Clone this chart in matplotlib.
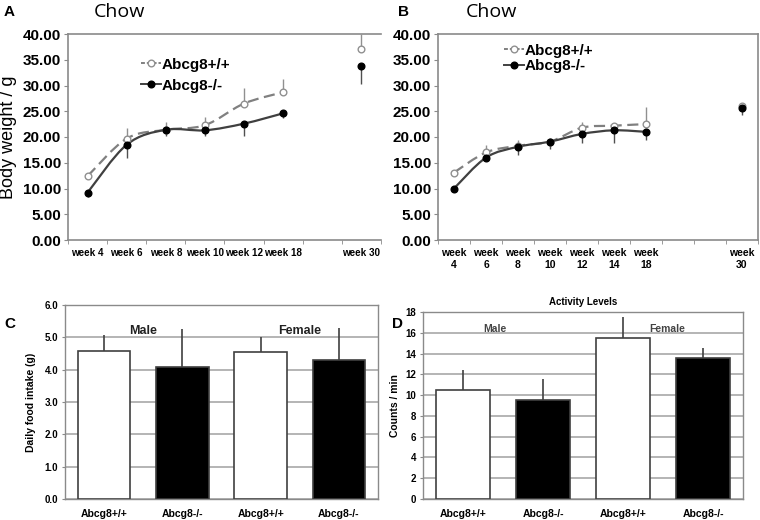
import matplotlib
matplotlib.use("Agg")
import matplotlib.pyplot as plt
from matplotlib.path import Path
from matplotlib.patches import PathPatch
from matplotlib.lines import Line2D
import numpy as np

plt.rcParams["font.family"] = ["Liberation Sans", "DejaVu Sans"]

# ---- panel A: body weight, chow
weeks_a = ["week 4", "week 6", "week 8", "week 10", "week 12", "week 18", "", "week 30"]
wt_a = [12.4, 19.7, 21.4, 22.3, 26.5, 28.7, 37.0]
wt_a_err = [0.7, 2.0, 1.6, 1.6, 3.1, 2.6, 3.0]
ko_a = [9.2, 18.5, 21.4, 21.3, 22.6, 24.6, 33.8]
ko_a_err = [0.9, 2.5, 1.3, 1.1, 2.5, 1.0, 3.6]
pos_a = [0, 1, 2, 3, 4, 5, 7]

# ---- panel B: body weight, chow
weeks_b = ["week\n4", "week\n6", "week\n8", "week\n10", "week\n12", "week\n14", "week\n18", "", "", "week\n30"]
wt_b = [13.1, 17.0, 18.3, 19.1, 21.8, 22.2, 22.5, 26.0]
wt_b_err = [0.5, 1.4, 1.1, 0.8, 1.2, 0.0, 3.3, 0.5]
ko_b = [10.0, 16.0, 18.1, 19.1, 20.6, 21.3, 21.0, 25.6]
ko_b_err = [0.6, 0.5, 1.6, 1.5, 1.8, 2.5, 1.6, 1.3]
pos_b = [0, 1, 2, 3, 4, 5, 6, 9]

# ---- panel C: food intake
genotypes = ["Abcg8+/+", "Abcg8-/-", "Abcg8+/+", "Abcg8-/-"]
food = [4.57, 4.07, 4.55, 4.31]
food_err = [0.51, 1.2, 0.47, 0.99]

# ---- panel D: activity
activity = [10.5, 9.55, 15.5, 13.6]
activity_err = [1.95, 2.0, 2.0, 0.95]

bar_colors = ["white", "black", "white", "black"]
GRID = "#a8a8a8"
SPINE = "#8a8a8a"


def smooth_path(xs, ys):
    # excel style smoothed line through the points (bezier segments)
    pts = np.column_stack([xs, ys]).astype(float)
    n = len(pts)
    verts = [pts[0]]
    codes = [Path.MOVETO]
    for i in range(n - 1):
        p0 = pts[i - 1] if i > 0 else pts[i]
        p1 = pts[i]
        p2 = pts[i + 1]
        p3 = pts[i + 2] if i + 2 < n else pts[i + 1]
        verts += [p1 + (p2 - p0) / 6.0, p2 - (p3 - p1) / 6.0, p2]
        codes += [Path.CURVE4] * 3
    return Path(verts, codes)


def weight_panel(ax, pos, wt, wt_err, ko, ko_err, labels, nline, xmax, tick_fs):
    ax.add_patch(PathPatch(smooth_path(pos[:nline], wt[:nline]), fill=False,
                           edgecolor="#808080", lw=1.6, ls=(0, (5, 2.5)), zorder=2))
    ax.add_patch(PathPatch(smooth_path(pos[:nline], ko[:nline]), fill=False,
                           edgecolor="#404040", lw=1.6, zorder=2))
    ax.errorbar(pos, wt, yerr=[np.zeros(len(wt)), wt_err], fmt="none",
                ecolor="#909090", elinewidth=1.0, capsize=0, zorder=3)
    ax.errorbar(pos, ko, yerr=[ko_err, np.zeros(len(ko))], fmt="none",
                ecolor="#505050", elinewidth=1.0, capsize=0, zorder=3)
    ax.plot(pos, wt, "o", ls="none", mfc="white", mec="#909090", ms=4.8, mew=1, zorder=4)
    ax.plot(pos, ko, "o", ls="none", mfc="black", mec="black", ms=4.8, zorder=5)
    ax.set_ylim(0, 40)
    ax.set_xlim(-0.5, xmax)
    ax.set_yticks(np.arange(0, 40.1, 5))
    ax.set_yticklabels(["%.2f" % v for v in np.arange(0, 40.1, 5)],
                       fontsize=11, fontweight="bold")
    ax.set_xticks(range(len(labels)))
    ax.set_xticklabels(labels, fontsize=tick_fs, fontweight="bold")
    ax.set_xticks(np.arange(-0.5, len(labels), 1), minor=True)
    ax.tick_params(axis="x", which="major", length=0, pad=6)
    ax.tick_params(axis="x", which="minor", length=3, color=SPINE)
    ax.tick_params(axis="y", length=3, color=SPINE, pad=2)
    for s in ax.spines.values():
        s.set_color(SPINE)
        s.set_linewidth(1.2)


def legend_handles():
    h1 = Line2D([], [], color="#808080", ls=(0, (2, 1)), lw=1.4, marker="o",
                mfc="white", mec="#909090", ms=4.8)
    h2 = Line2D([], [], color="#404040", lw=1.4, marker="o", mfc="black",
                mec="black", ms=4.8)
    return [h1, h2]


def bar_panel(ax, vals, errs, ymax, ystep, fmt):
    x = np.arange(len(vals))
    ax.bar(x, vals, width=0.67, color=bar_colors, edgecolor="#404040", lw=1.2, zorder=3)
    ax.errorbar(x, vals, yerr=[np.zeros(len(vals)), errs], fmt="none",
                ecolor="#404040", elinewidth=1.2, capsize=0, zorder=2)
    ax.set_xlim(-0.5, len(vals) - 0.5)
    ax.set_ylim(0, ymax)
    ticks = np.arange(0, ymax + 0.01, ystep)
    ax.set_yticks(ticks)
    ax.set_yticklabels([fmt % v for v in ticks], fontsize=7, fontweight="bold")
    ax.yaxis.grid(True, color=GRID, lw=1.2)
    ax.set_axisbelow(True)
    ax.set_xticks(x)
    ax.set_xticklabels(genotypes, fontsize=7.5, fontweight="bold")
    ax.tick_params(axis="x", length=0, pad=7)
    ax.tick_params(axis="y", length=2, color=SPINE, pad=3)
    for s in ax.spines.values():
        s.set_color(SPINE)
        s.set_linewidth(1.0)


fig = plt.figure(figsize=(7.6, 5.2), dpi=100)

# A
axA = fig.add_axes([68 / 760, 1 - 240 / 520, 313 / 760, 206 / 520])
weight_panel(axA, pos_a, wt_a, wt_a_err, ko_a, ko_a_err, weeks_a, 6, 7.33, 7.1)
axA.spines["right"].set_visible(False)
axA.set_ylabel("Body weight / g", fontsize=13, labelpad=4)
axA.legend(legend_handles(), ["Abcg8+/+", "Abcg8-/-"], loc="upper left",
           bbox_to_anchor=(127 / 760, 1 - 44 / 520), bbox_transform=fig.transFigure,
           frameon=False, handlelength=1.3, handletextpad=0.05, labelspacing=0.45,
           prop={"weight": "bold", "size": 11})

# B
axB = fig.add_axes([438 / 760, 1 - 240 / 520, 320 / 760, 206 / 520])
weight_panel(axB, pos_b, wt_b, wt_b_err, ko_b, ko_b_err, weeks_b, 7, 9.5, 7.5)
axB.legend(legend_handles(), ["Abcg8+/+", "Abcg8-/-"], loc="upper left",
           bbox_to_anchor=(490 / 760, 1 - 30 / 520), bbox_transform=fig.transFigure,
           frameon=False, handlelength=1.3, handletextpad=0.05, labelspacing=0.1,
           prop={"weight": "bold", "size": 11})

# C
axC = fig.add_axes([65 / 760, 1 - 499 / 520, 313 / 760, 194 / 520])
bar_panel(axC, food, food_err, 6.0, 1.0, "%.1f")
axC.set_ylabel("Daily food intake (g)", fontsize=7.5, fontweight="bold", labelpad=6)
axC.text(0.5, 5.2, "Male", ha="center", va="center", fontsize=9, fontweight="bold", color="#222222")
axC.text(2.5, 5.2, "Female", ha="center", va="center", fontsize=9, fontweight="bold", color="#222222")

# D
axD = fig.add_axes([423 / 760, 1 - 499 / 520, 320 / 760, 187 / 520])
bar_panel(axD, activity, activity_err, 18, 2, "%d")
axD.set_ylabel("Counts / min", fontsize=7.5, fontweight="bold", labelpad=4)
axD.set_title("Activity Levels", fontsize=7, fontweight="bold", pad=5)
axD.text(0.4, 16.4, "Male", ha="center", va="center", fontsize=7.5, fontweight="bold", color="#444444")
axD.text(2.55, 16.4, "Female", ha="center", va="center", fontsize=7.5, fontweight="bold", color="#444444")

# panel letters and headings
fig.text(4 / 760, 1 - 12 / 520, "A", fontsize=11, fontweight="bold", va="center")
fig.text(94 / 760, 1 - 12 / 520, "Chow", fontsize=14, va="center", family=["Open Sans", "DejaVu Sans"])
fig.text(398 / 760, 1 - 12 / 520, "B", fontsize=11, fontweight="bold", va="center")
fig.text(466 / 760, 1 - 12 / 520, "Chow", fontsize=14, va="center", family=["Open Sans", "DejaVu Sans"])
fig.text(4 / 760, 1 - 324 / 520, "C", fontsize=11, fontweight="bold", va="center")
fig.text(392 / 760, 1 - 324 / 520, "D", fontsize=11, fontweight="bold", va="center")

fig.savefig("out.png", dpi=100)
